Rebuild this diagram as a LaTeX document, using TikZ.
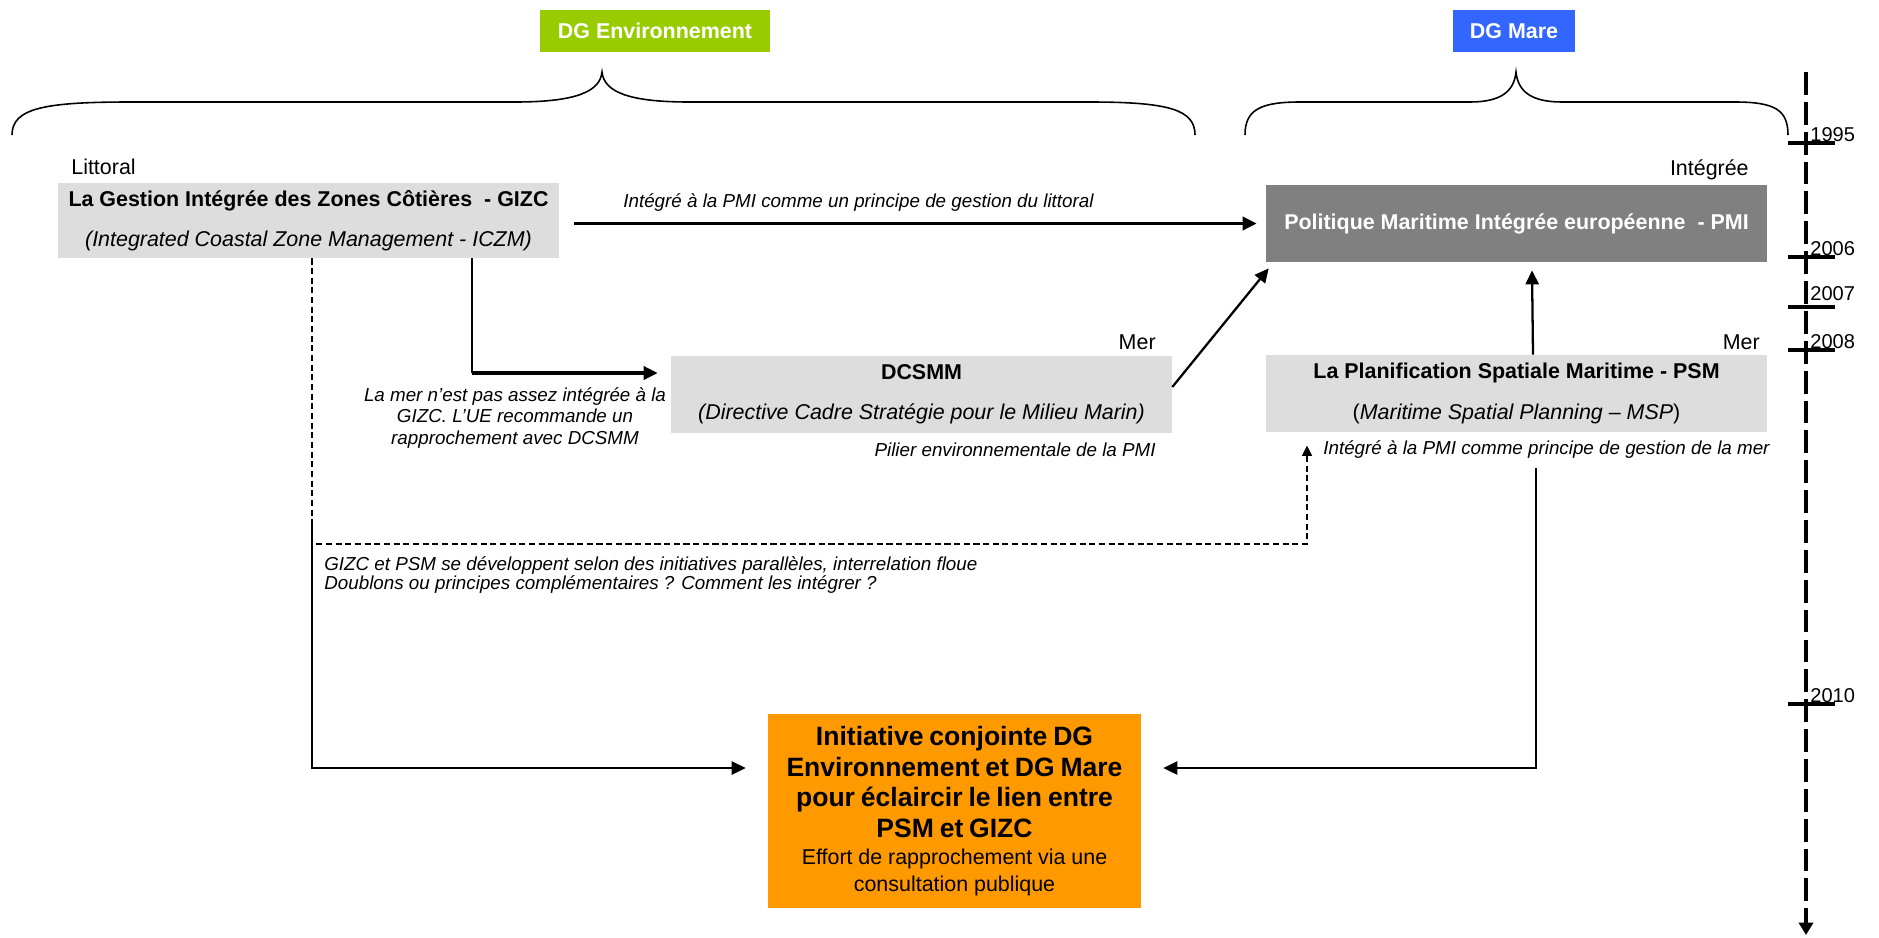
\documentclass[tikz,border=0pt]{standalone}
\usepackage{fontspec}
\setmainfont{Liberation Sans}
\usepackage{xcolor}
\usepackage{tikz}
\usetikzlibrary{calc}
\usetikzlibrary{arrows.meta}
\definecolor{dgvert}{HTML}{99CC00}
\definecolor{dgbleu}{HTML}{3366FF}
\definecolor{boite}{HTML}{DDDDDD}
\definecolor{pmigris}{HTML}{808080}
\definecolor{orangeinit}{HTML}{FF9900}

\begin{document}
\begin{tikzpicture}[x=0.02cm,y=-0.02cm,
	txt/.style={font=\fontsize{12.2}{14}\selectfont,inner sep=0pt},
	note/.style={font=\fontsize{10.7}{12.2}\selectfont\itshape,inner sep=0pt},
	gbox/.style={fill=boite,minimum width=10.02cm,minimum height=1.54cm,inner sep=0pt,align=center,font=\fontsize{12.2}{14}\selectfont},
	dgbox/.style={minimum height=0.84cm,inner sep=0pt,text=white,font=\fontsize{12.2}{14}\selectfont\bfseries},
	fleche/.style={line width=1.8pt,-{Triangle[length=8pt,width=7.5pt]}},
	fin/.style={line width=1.3pt,-{Triangle[length=8pt,width=7.5pt]}},
	pointille/.style={line width=1.3pt,dash pattern=on 3.5pt off 2pt},
	annee/.style={font=\fontsize{11.4}{13}\selectfont,inner sep=0pt,anchor=base west}]
	\useasboundingbox (0,0) rectangle (1879,937);
	\node[dgbox,fill=dgvert,minimum width=4.6cm] (dgenv) at (655,31) {DG Environnement};
	\node[dgbox,fill=dgbleu,minimum width=2.44cm] (dgmare) at (1514,31) {DG Mare};
	\draw[line width=0.9pt] (12,135) .. controls (12,108) and (45,102) .. (130,102) -- (515,102) .. controls (575,102) and (600,92) .. (602,72) .. controls (604,92) and (629,102) .. (689,102) -- (1090,102) .. controls (1170,102) and (1195,110) .. (1195,135);
	\draw[line width=0.9pt] (1245,135) .. controls (1245,110) and (1260,102) .. (1300,102) -- (1470,102) .. controls (1500,102) and (1514,92) .. (1516,72) .. controls (1518,92) and (1532,102) .. (1562,102) -- (1735,102) .. controls (1775,102) and (1788,110) .. (1788,135);
	\node[txt,anchor=west] (littoral) at (71,167) {Littoral};
	\node[txt,anchor=east] (integree) at (1749,170) {Intégrée};
	\node[gbox,minimum height=1.5cm] (gizc) at (308.5,220.5) {\textbf{La Gestion Intégrée des Zones Côtières~ - GIZC}\\[9pt]\textit{(Integrated Coastal Zone Management - ICZM)}};
	\node[gbox,fill=pmigris,text=white,font=\fontsize{12.2}{14}\selectfont\bfseries] (pmi) at (1516.5,223.5) {Politique Maritime Intégrée européenne~ - PMI};
	\node[gbox] (dcsmm) at (921.5,394.5) {\textbf{DCSMM}\\[9pt]\textit{(Directive Cadre Stratégie pour le Milieu Marin)}};
	\node[gbox] (psm) at (1516.5,393.5) {\textbf{La Planification Spatiale Maritime - PSM}\\[9pt](\textit{Maritime Spatial Planning – MSP})};
	\node[txt,anchor=east] (mer1) at (1156,342) {Mer};
	\node[txt,anchor=east] (mer2) at (1760,342) {Mer};
	\node[fill=orangeinit,minimum width=7.46cm,minimum height=3.88cm,inner sep=0pt,text width=7.3cm,align=center] (init) at (954.5,811) {\fontsize{15.1}{17.6}\selectfont\bfseries Initiative conjointe DG\\ Environnement et DG Mare\\ pour éclaircir le lien entre\\ PSM et GIZC\par\fontsize{12.2}{15.3}\selectfont\mdseries Effort de rapprochement via une\\ consultation publique\par};
	\node[note,anchor=west] (n1) at (623,203) {Intégré à la PMI comme un principe de gestion du littoral};
	\node[note,align=center] (n2) at (515,418) {La mer n’est pas assez intégrée à la\\GIZC. L’UE recommande un\\rapprochement avec DCSMM};
	\node[note,anchor=east] (n3) at (1156,450) {Pilier environnementale de la PMI};
	\node[note,anchor=west] (n4) at (1323,450) {Intégré à la PMI comme principe de gestion de la mer};
	\node[note,anchor=west,align=left,font=\fontsize{10.7}{11.3}\selectfont\itshape] (n5) at (324,575) {GIZC et PSM se développent selon des initiatives parallèles, interrelation floue\\Doublons ou principes complémentaires ? Comment les intégrer ?};
	\coordinate (gd) at (472,373);
	\coordinate (ls) at (312,522);
	\coordinate (lc) at (312,768);
	\coordinate (dk) at (1307,544);
	\coordinate (rc) at (1536,768);
	\draw[fleche,shorten <=0.3cm,shorten >=0.18cm] (gizc.east |- pmi.west) -- (pmi.west);
	\draw[line width=1.3pt] (gizc.south -| gd) -- (gd);
	\draw[fleche,shorten >=0.26cm] (gd) -- (dcsmm.west |- gd);
	\draw[fin] ($(dcsmm.east)+(0,-7.5)$) -- ($(pmi.south west)+(3,6)$);
	\draw[fin] ($(psm.north)+(16.5,0)$) -- ($(pmi.south)+(15.5,8)$);
	\draw[pointille,-{Triangle[length=6pt,width=5.5pt]},shorten >=0.26cm] (gizc.south -| ls) |- (dk) -- (psm.south -| dk);
	\draw[fin,shorten >=0.44cm] (ls) -- (lc) -- (init.west |- lc);
	\draw[fin,shorten <=0.72cm,shorten >=0.44cm] (psm.south -| rc) -- (rc) -- (init.east |- rc);
	\coordinate (t0) at (1806,72);
	\coordinate (t1) at (1806,935);
	\draw[line width=2.2pt,dash pattern=on 13pt off 4pt,-{Triangle[length=7pt,width=8pt]}] (t0) -- (t1);
	\foreach \y/\b/\an in {143/141/1995,257/255/2006,307/300/2007,350/348/2008,704/702/2010}{
		\draw[line width=1.8pt] (1788,\y) -- (1835,\y);
		\node[annee] (a\an) at (1810,\b) {\an};
	}
\end{tikzpicture}
\end{document}
